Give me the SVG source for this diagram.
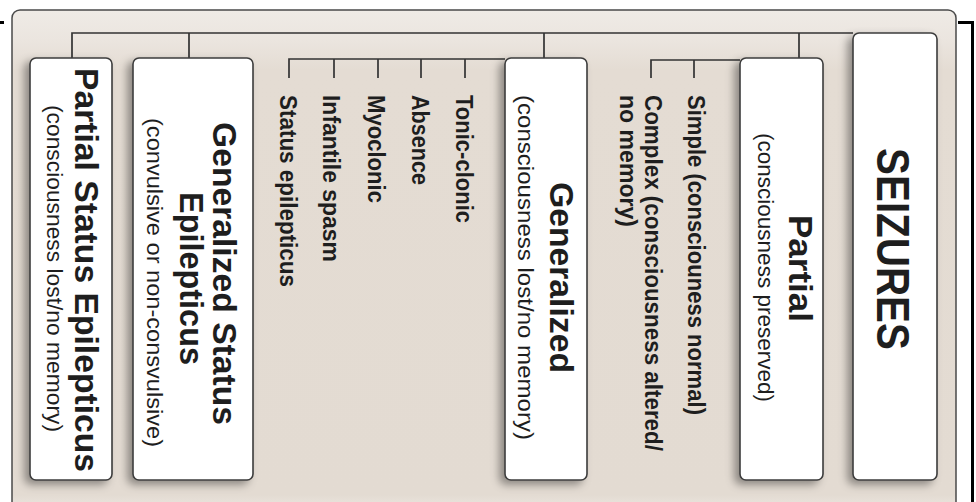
<svg xmlns="http://www.w3.org/2000/svg" width="976" height="502" viewBox="0 0 976 502">
<defs>
<filter id="sh" x="-40%" y="-10%" width="180%" height="125%">
<feDropShadow dx="-5" dy="4" stdDeviation="4" flood-color="#000" flood-opacity="0.38"/>
</filter>
<linearGradient id="pg" x1="0" y1="0" x2="0" y2="1">
<stop offset="0" stop-color="#efebe6"/>
<stop offset="0.06" stop-color="#ebe5df"/>
<stop offset="0.12" stop-color="#e4dcd3"/>
<stop offset="0.97" stop-color="#e3dbd2"/>
<stop offset="1" stop-color="#ece7e1"/>
</linearGradient>
</defs>
<style>
.box{fill:#fff;stroke:#3c3c3c;stroke-width:1.6;filter:url(#sh)}
.t{font-family:"Liberation Sans",Arial,sans-serif;font-weight:bold;fill:#1e1e1e}
.title{font-size:34px;text-anchor:middle}
.sub{font-size:22px;font-weight:normal;text-anchor:middle}
.lbl{font-size:23px}
.ln{stroke:#333;stroke-width:1.7;fill:none}
.blk{fill:#000}
</style>
<rect x="0" y="0" width="976" height="502" fill="#fff"/>
<rect class="blk" x="0" y="21" width="4" height="3"/>
<rect class="blk" x="958" y="21" width="16" height="3"/>
<rect class="blk" x="971" y="21" width="3" height="481"/>
<rect id="panel" x="12" y="10" width="944" height="500" rx="8" fill="url(#pg)" stroke="#4a4a4a" stroke-width="1.5"/>

<g id="connectors">
<path class="ln" d="M72 58V33H853"/>
<path class="ln" d="M189 33V58M544 33V58M799 33V58"/>
<path class="ln" d="M289 78V59H505M334 59V78M378 59V78M421 59V78M465 59V78"/>
<path class="ln" d="M651 78V60H740M694 60V78"/>
</g>

<g id="partial-status-epilepticus">
<rect class="box" x="30" y="58" width="82" height="422" rx="6"/>
<text class="t title" transform="translate(75,270) rotate(90)" textLength="404" lengthAdjust="spacingAndGlyphs">Partial Status Epilepticus</text>
<text class="t sub" transform="translate(47,268.5) rotate(90)" textLength="327" lengthAdjust="spacingAndGlyphs">(consciousness lost/no memory)</text>
</g>

<g id="generalized-status-epilepticus">
<rect class="box" x="133" y="58" width="120" height="422" rx="6"/>
<text class="t title" transform="translate(213,273.5) rotate(90)" textLength="303" lengthAdjust="spacingAndGlyphs">Generalized Status</text>
<text class="t title" transform="translate(180,278.5) rotate(90)" textLength="173" lengthAdjust="spacingAndGlyphs">Epilepticus</text>
<text class="t sub" transform="translate(147,282.5) rotate(90)" textLength="329" lengthAdjust="spacingAndGlyphs">(convulsive or non-consvulsive)</text>
</g>

<g id="generalized">
<rect class="box" x="505" y="58" width="82" height="422" rx="6"/>
<text class="t title" transform="translate(550,277.5) rotate(90)" textLength="191" lengthAdjust="spacingAndGlyphs">Generalized</text>
<text class="t sub" transform="translate(518,267.5) rotate(90)" textLength="345" lengthAdjust="spacingAndGlyphs">(consciousness lost/no memory)</text>
</g>

<g id="partial">
<rect class="box" x="740" y="58" width="83" height="422" rx="6"/>
<text class="t title" transform="translate(789,268.5) rotate(90)" textLength="107" lengthAdjust="spacingAndGlyphs">Partial</text>
<text class="t sub" transform="translate(758,267.5) rotate(90)" textLength="269" lengthAdjust="spacingAndGlyphs">(consciousness preserved)</text>
</g>

<g id="seizures">
<rect class="box" x="853" y="33" width="84" height="447" rx="6"/>
<text class="t title" style="font-size:47px" transform="translate(877,249) rotate(90)" textLength="202" lengthAdjust="spacingAndGlyphs">SEIZURES</text>
</g>

<g id="tonic-clonic"><text class="t lbl" transform="translate(456,95) rotate(90)" textLength="128" lengthAdjust="spacingAndGlyphs">Tonic-clonic</text></g>
<g id="absence"><text class="t lbl" transform="translate(412,95) rotate(90)" textLength="90" lengthAdjust="spacingAndGlyphs">Absence</text></g>
<g id="myoclonic"><text class="t lbl" transform="translate(368,95) rotate(90)" textLength="108" lengthAdjust="spacingAndGlyphs">Myoclonic</text></g>
<g id="infantile-spasm"><text class="t lbl" transform="translate(323,95) rotate(90)" textLength="167" lengthAdjust="spacingAndGlyphs">Infantile spasm</text></g>
<g id="status-epilepticus"><text class="t lbl" transform="translate(280,95) rotate(90)" textLength="192" lengthAdjust="spacingAndGlyphs">Status epilepticus</text></g>
<g id="simple"><text class="t lbl" transform="translate(688,95) rotate(90)" textLength="320" lengthAdjust="spacingAndGlyphs">Simple (consciouness normal)</text></g>
<g id="complex">
<text class="t lbl" transform="translate(645,95) rotate(90)" textLength="356" lengthAdjust="spacingAndGlyphs">Complex (consciousness altered/</text>
<text class="t lbl" transform="translate(620,95) rotate(90)" textLength="132" lengthAdjust="spacingAndGlyphs">no memory)</text>
</g>
</svg>
